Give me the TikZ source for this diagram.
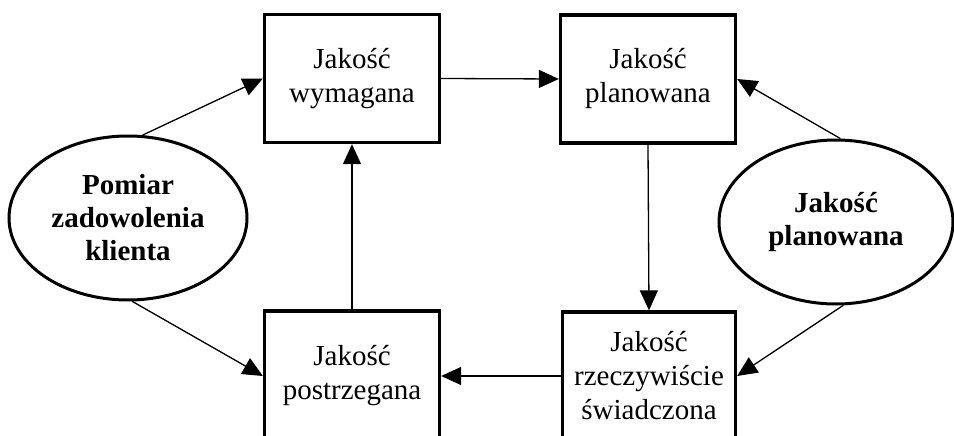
\documentclass[tikz,border=0pt]{standalone}
\usepackage{fontspec}
\setmainfont{Liberation Serif}
\usetikzlibrary{arrows.meta,shapes.geometric}
\begin{document}
\begin{tikzpicture}[x=1pt,y=-1pt,
  box/.style={draw,line width=3.3pt,minimum width=175pt,inner sep=0pt,align=center,
    font=\fontsize{29}{34}\selectfont},
  oval/.style={draw,ellipse,line width=3pt,inner sep=0pt,align=center,
    font=\fontsize{29}{33}\selectfont\bfseries},
  arr/.style={line width=1.3pt,-{Triangle[length=20pt,width=18pt]}}]
\clip (0,0) rectangle (954,436);
\fill[white] (0,0) rectangle (954,436);
\node[box,minimum height=128pt] (b1) at (352,78.5) {Jakość\\wymagana};
\node[box,minimum height=128pt] (b2) at (648,79) {Jakość\\planowana};
\node[box,minimum height=130pt] (b3) at (352,376) {Jakość\\postrzegana};
\node[box,minimum width=173pt,minimum height=128pt] (b4) at (649,376) {Jakość\\rzeczywiście\\świadczona};
\node[oval,minimum width=238pt,minimum height=164pt] (e1) at (128,218) {Pomiar\\zadowolenia\\klienta};
\node[oval,minimum width=234pt,minimum height=164pt] (e2) at (836,222) {Jakość\\planowana};
\draw[arr] (b1.east) -- (b2.west);
\draw[arr] (b2.south) -- (b4.north);
\draw[arr] (b4.west) -- (b3.east);
\draw[arr] (b3.north) -- (b1.south);
\draw[arr] (e1.80) -- (b1.west);
\draw[arr] (e1.-87) -- (b3.west);
\draw[arr] (e2.87) -- (b2.east);
\draw[arr] (e2.-85) -- (b4.east);
\end{tikzpicture}
\end{document}
